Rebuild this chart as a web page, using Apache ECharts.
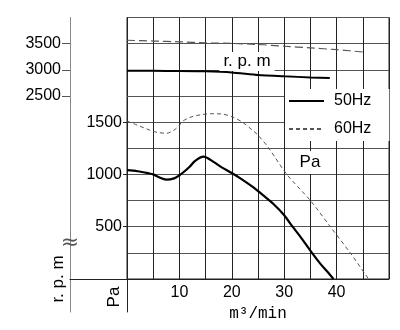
<!DOCTYPE html>
<html>
<head>
<meta charset="utf-8">
<script src="https://cdn.jsdelivr.net/npm/echarts@6/dist/echarts.min.js"></script>
<style>html,body{margin:0;padding:0;background:#fff;}#c{width:400px;height:330px;}</style>
</head>
<body>
<div id="c"></div>
<script>
// ---- data ----
const flow50Pa = [0, 2, 4, 5, 6, 7.5, 9, 10, 11, 12, 13, 14.6, 16.5, 18, 20, 22, 24, 26, 28, 30, 31.6, 33, 35.3, 37, 38.5, 39.4];
const pa50     = [1040, 1030, 1012, 1000, 975, 950, 962, 992, 1030, 1075, 1130, 1170, 1120, 1070, 1013, 950, 880, 800, 715, 610, 500, 410, 250, 140, 55, 0];
const flow60Pa = [0, 2, 4, 5, 6, 7.5, 9, 10, 10.4, 11, 12, 14, 16, 18, 20, 22, 24, 25, 27, 30.5, 35, 38.8, 42.6, 46.1];
const pa60     = [1510, 1470, 1430, 1412, 1400, 1393, 1425, 1470, 1500, 1520, 1545, 1570, 1580, 1578, 1552, 1500, 1420, 1375, 1255, 1000, 750, 500, 250, 0];
const flow50Rpm = [0, 5, 10, 15, 20, 25, 30, 35, 38.7];
const rpm50     = [2980, 2980, 2978, 2972, 2950, 2900, 2875, 2855, 2842];
const flow60Rpm = [0, 5, 10, 15, 20, 25, 30, 35, 40, 45];
const rpm60     = [3565, 3550, 3535, 3515, 3505, 3485, 3450, 3418, 3385, 3340];
const xTickLabels = [10, 20, 30, 40];
const paTickLabels = [500, 1000, 1500];
const rpmTickLabels = [2500, 3000, 3500];
const seriesNames = ['50Hz', '60Hz'];

function zip(a, b) { return a.map((v, i) => [v, b[i]]); }
const plain = v => String(v);

const FONT = 'Liberation Sans';
const chart = echarts.init(document.getElementById('c'), null, {renderer: 'canvas'});
const option = {
  animation: false,
  backgroundColor: '#fff',
  grid: [
    {left: 127, right: 11, top: 17.5, bottom: 51, show: true, borderColor: '#222', borderWidth: 1, backgroundColor: 'transparent'},
    {left: 127, right: 11, top: 279, height: 33},
    {left: 70, width: 57, top: 279, height: 33}
  ],
  xAxis: [
    {gridIndex: 0, type: 'value', min: 0, max: 50, interval: 5,
     axisLine: {onZero: false, lineStyle: {color: '#222'}}, axisTick: {show: false},
     axisLabel: {customValues: xTickLabels, formatter: plain, fontSize: 16, color: '#000', margin: 6, fontFamily: FONT},
     splitLine: {lineStyle: {color: '#222', width: 1}},
     name: 'm³/min', nameLocation: 'middle', nameGap: 24,
     nameTextStyle: {fontFamily: 'Liberation Mono', fontSize: 16, color: '#000'}},
    {gridIndex: 1, type: 'value', show: false},
    {gridIndex: 2, type: 'value', position: 'top',
     axisLine: {show: true, onZero: false, lineStyle: {color: '#222'}},
     axisTick: {show: false}, axisLabel: {show: false}, splitLine: {show: false}}
  ],
  yAxis: [
    // 0: Pa axis with grid lines
    {gridIndex: 0, type: 'value', min: 0, max: 2500, interval: 250,
     axisLine: {show: true, onZero: false, lineStyle: {color: '#222'}},
     axisTick: {show: false},
     axisLabel: {show: false},
     splitLine: {lineStyle: {color: '#555', width: 1}}},
    // 1: rpm axis (labels + outer ticks)
    {gridIndex: 0, type: 'value', min: -1000, max: 4000, interval: 500, position: 'left', offset: 57,
     axisLine: {show: true, onZero: false, lineStyle: {color: '#888'}},
     axisTick: {show: true, length: 8, customValues: rpmTickLabels, lineStyle: {color: '#555'}},
     axisLabel: {customValues: rpmTickLabels, formatter: plain, margin: 9, fontSize: 16, color: '#000', fontFamily: FONT},
     splitLine: {show: false}},
    // 2: rpm inner ticks
    {gridIndex: 0, type: 'value', min: -1000, max: 4000, interval: 500, position: 'left', offset: 57,
     axisLine: {show: false},
     axisTick: {show: true, inside: true, length: 8, customValues: rpmTickLabels, lineStyle: {color: '#555'}},
     axisLabel: {show: false}, splitLine: {show: false}},
    // 3: lower extension of Pa axis line
    {gridIndex: 1, type: 'value', min: 0, max: 1, position: 'left',
     axisLine: {show: true, onZero: false, lineStyle: {color: '#222'}},
     axisTick: {show: false}, axisLabel: {show: false}, splitLine: {show: false}},
    // 4: lower extension of rpm axis line
    {gridIndex: 1, type: 'value', min: 0, max: 1, position: 'left', offset: 57,
     axisLine: {show: true, onZero: false, lineStyle: {color: '#888'}},
     axisTick: {show: false}, axisLabel: {show: false}, splitLine: {show: false}},
    {gridIndex: 2, type: 'value', show: false},
    // 6: Pa labels and ticks
    {gridIndex: 0, type: 'value', min: 0, max: 2500, interval: 250, position: 'left',
     axisLine: {show: false},
     axisTick: {show: true, length: 4, customValues: paTickLabels, lineStyle: {color: '#222'}},
     axisLabel: {customValues: paTickLabels, formatter: plain, margin: 5, fontSize: 16, color: '#000', fontFamily: FONT},
     splitLine: {show: false}}
  ],
  legend: {
    data: seriesNames, orient: 'vertical', left: 285, top: 89,
    backgroundColor: '#fff', padding: [3, 18, 3, 3], itemGap: 10,
    itemWidth: 35, itemHeight: 16,
    itemStyle: {opacity: 0},
    textStyle: {fontSize: 16, color: '#000', fontFamily: FONT, padding: [0, 0, 0, 5], lineHeight: 18}
  },
  series: [
    {type: 'line', name: seriesNames[0], xAxisIndex: 0, yAxisIndex: 0, data: zip(flow50Pa, pa50),
     smooth: 0.3, symbol: 'none', lineStyle: {color: '#000', width: 2.2}, itemStyle: {color: '#000'}, z: 5},
    {type: 'line', name: seriesNames[1], xAxisIndex: 0, yAxisIndex: 0, data: zip(flow60Pa, pa60),
     smooth: 0.3, symbol: 'none', lineStyle: {color: '#555', width: 1, type: [4, 3]}, itemStyle: {color: '#555'}, z: 4},
    {type: 'line', name: seriesNames[0], xAxisIndex: 0, yAxisIndex: 1, data: zip(flow50Rpm, rpm50),
     smooth: 0.2, symbol: 'none', lineStyle: {color: '#000', width: 2}, itemStyle: {color: '#000'}, z: 5},
    {type: 'line', name: seriesNames[1], xAxisIndex: 0, yAxisIndex: 1, data: zip(flow60Rpm, rpm60),
     smooth: 0.2, symbol: 'none', lineStyle: {color: '#555', width: 1.2, type: [8, 4]}, itemStyle: {color: '#555'}, z: 4}
  ],
  graphic: [
    {type: 'text', x: 247, y: 61.5, z: 100,
     style: {text: 'r. p. m', fill: '#000', font: '17px "Liberation Sans"', align: 'center', verticalAlign: 'middle',
             backgroundColor: '#fff', padding: [1, 4]}},
    {type: 'text', x: 310, y: 162.5, z: 100,
     style: {text: 'Pa', fill: '#000', font: '17px "Liberation Sans"', align: 'center', verticalAlign: 'middle',
             backgroundColor: '#fff', padding: [3, 3]}},
    {type: 'text', x: 58, y: 279, rotation: Math.PI / 2, z: 100,
     style: {text: 'r. p. m', fill: '#000', font: '17px "Liberation Sans"', align: 'center', verticalAlign: 'middle'}},
    {type: 'text', x: 114, y: 297, rotation: Math.PI / 2, z: 100,
     style: {text: 'Pa', fill: '#000', font: '17px "Liberation Sans"', align: 'center', verticalAlign: 'middle'}},
    {type: 'text', x: 70, y: 243, z: 100,
     style: {text: '≈', fill: '#555', font: '22px "DejaVu Sans"', align: 'center', verticalAlign: 'middle'}}
  ]
};
chart.setOption(option);
</script>
</body>
</html>
